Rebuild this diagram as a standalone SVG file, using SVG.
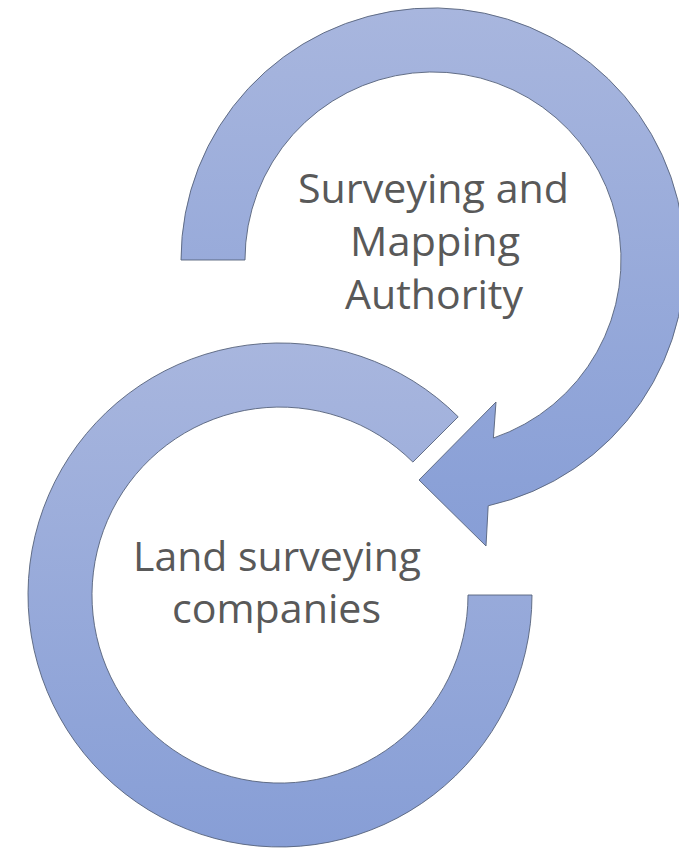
<svg xmlns="http://www.w3.org/2000/svg" width="679" height="848" viewBox="0 0 679 848">
  <defs>
    <linearGradient id="fillGrad" x1="0" y1="0" x2="0" y2="1">
      <stop offset="0" stop-color="#A8B6DE"/>
      <stop offset="1" stop-color="#879ED6"/>
    </linearGradient>
    <style>
      .shape { fill: url(#fillGrad); stroke: #56627A; stroke-width: 0.9; stroke-linejoin: miter; }
      .label { font-family: "Open Sans", "Liberation Sans", sans-serif; font-size: 41px; fill: #595959; text-anchor: middle; }
    </style>
  </defs>
  <rect width="679" height="848" fill="#FFFFFF"/>
  <g id="connectors">
    <path id="arrow-top" class="shape" d="M 181,260 A 252 252 0 1 1 488.2,505.8 L 486,546 L 419,480 L 496,402 L 493.4,438 A 188 188 0 1 0 245,260 Z"/>
  </g>
  <g id="node-lower">
    <path class="shape" d="M 532,595 A 252 252 0 1 1 458.2,416.8 L 412.9,462.1 A 188 188 0 1 0 468,595 Z"/>
    <text class="label" x="277" y="571" textLength="288" lengthAdjust="spacingAndGlyphs">Land surveying</text>
    <text class="label" x="276.5" y="623" textLength="209" lengthAdjust="spacingAndGlyphs">companies</text>
  </g>
  <g id="node-upper">
    <text class="label" x="433.5" y="203" textLength="271" lengthAdjust="spacingAndGlyphs">Surveying and</text>
    <text class="label" x="435" y="256" textLength="170" lengthAdjust="spacingAndGlyphs">Mapping</text>
    <text class="label" x="434" y="309" textLength="178" lengthAdjust="spacingAndGlyphs">Authority</text>
  </g>
</svg>
